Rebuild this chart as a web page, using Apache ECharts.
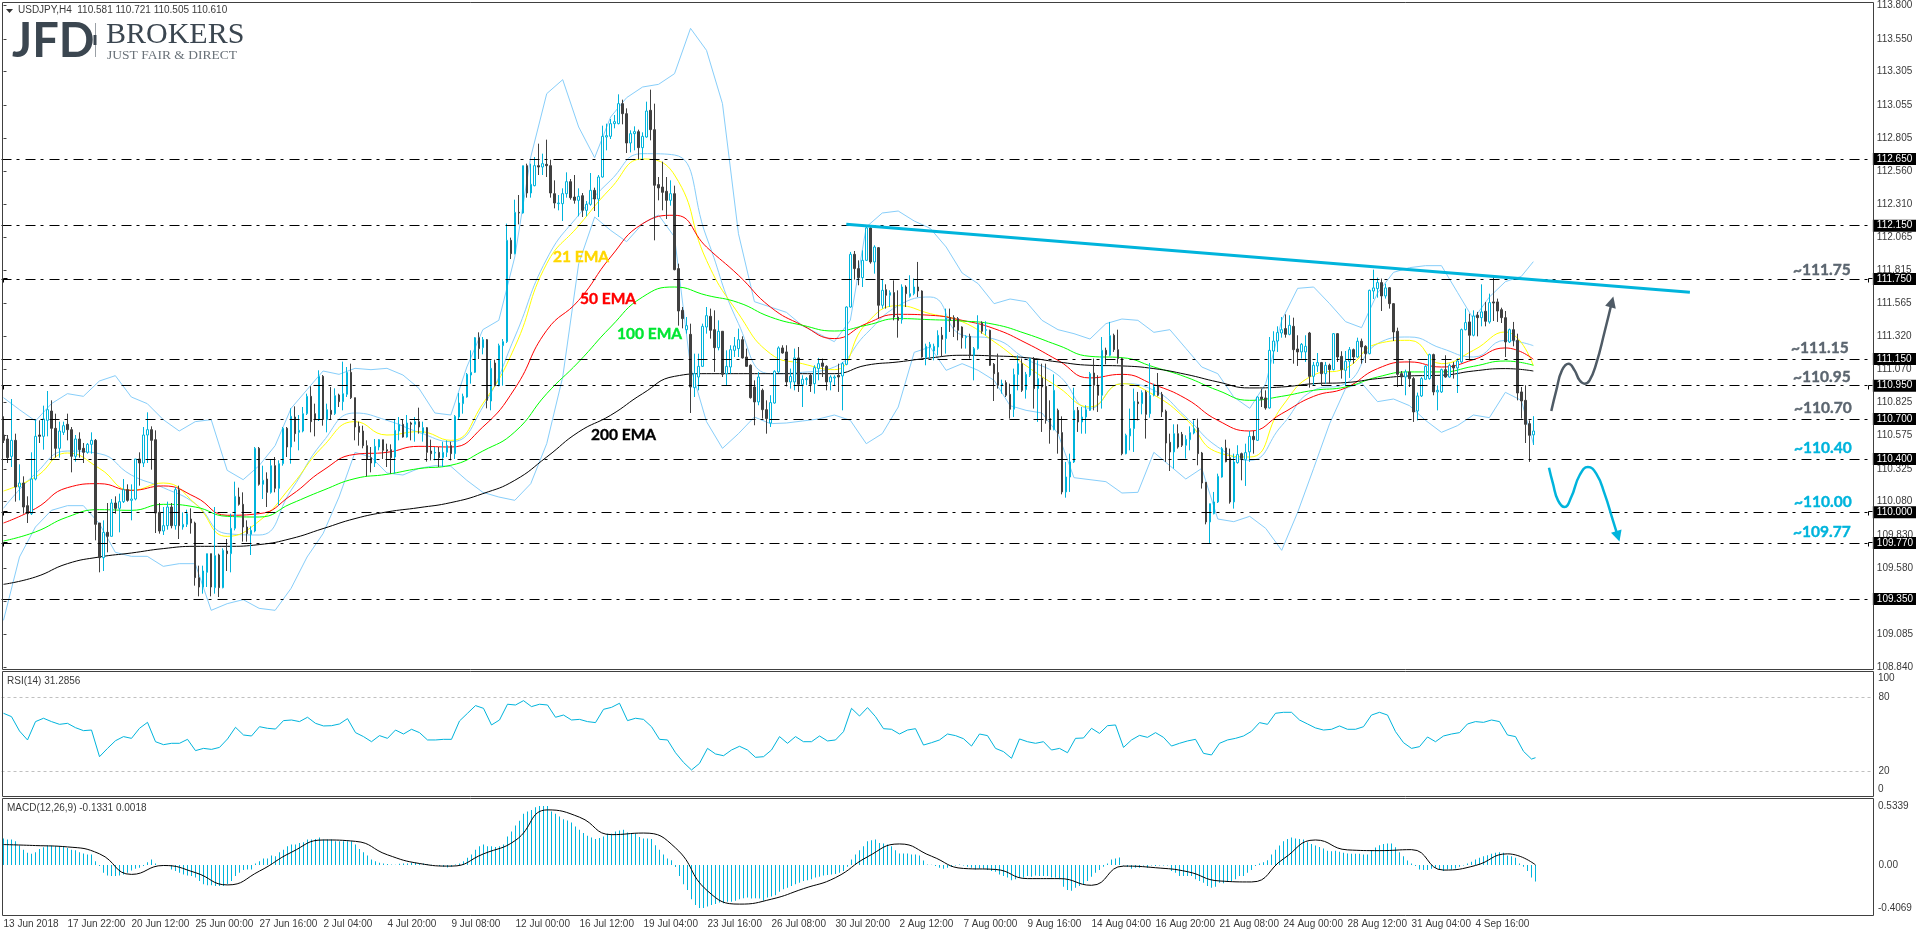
<!DOCTYPE html>
<html>
<head>
<meta charset="utf-8">
<title>USDJPY H4</title>
<script src="https://cdn.jsdelivr.net/npm/echarts@6/dist/echarts.min.js"></script>
<style>
  html, body { margin: 0; background: #fff; }
  #chart { width: 1916px; height: 936px; }
</style>
</head>
<body>
<div id="chart"></div>
<script>
// [open, close, low, high]
const candles = [
[110.58,110.54,110.52,110.72],[110.55,110.41,110.37,110.58],[110.42,110.54,110.34,110.85],[110.54,110.19,110.08,110.59],[110.19,110.22,110.09,110.36],[110.22,110.04,109.99,110.27],[110.05,109.99,109.92,110.12],[109.99,110.25,109.98,110.45],
[110.25,110.57,110.24,110.70],[110.58,110.57,110.52,110.69],[110.57,110.70,110.47,110.80],[110.69,110.77,110.57,110.91],[110.76,110.63,110.39,110.84],[110.63,110.48,110.41,110.74],[110.48,110.61,110.41,110.68],[110.60,110.65,110.58,110.68],
[110.66,110.62,110.54,110.74],[110.62,110.42,110.30,110.64],[110.42,110.55,110.38,110.58],[110.55,110.47,110.41,110.60],[110.48,110.45,110.37,110.52],[110.45,110.51,110.44,110.52],[110.51,110.54,110.44,110.60],[110.54,109.91,109.79,110.55],
[109.92,109.66,109.55,109.92],[109.66,109.85,109.56,109.94],[109.85,109.82,109.70,110.07],[109.82,110.07,109.82,110.10],[110.07,110.03,109.99,110.12],[110.03,110.08,109.85,110.14],[110.08,110.17,110.07,110.25],[110.17,110.09,110.08,110.21],
[110.09,110.10,109.94,110.21],[110.10,110.40,110.09,110.40],[110.40,110.37,110.20,110.45],[110.37,110.58,110.34,110.64],[110.58,110.62,110.37,110.75],[110.62,110.54,110.32,110.645],[110.545,109.995,109.845,110.615],[110.00,109.86,109.84,110.07],
[109.86,109.90,109.83,110.04],[109.90,110.04,109.87,110.08],[110.04,109.90,109.88,110.07],[109.90,110.17,109.87,110.19],[110.17,109.90,109.80,110.20],[109.89,109.91,109.87,110.0],[109.91,109.99,109.89,110.02],[109.95,109.92,109.84,110.03],
[109.92,109.51,109.45,109.93],[109.51,109.44,109.37,109.60],[109.44,109.56,109.39,109.60],[109.55,109.69,109.44,109.69],[109.69,109.44,109.37,109.69],[109.435,109.675,109.39,110.04],[109.68,109.435,109.365,109.69],[109.435,109.715,109.43,109.73],
[109.71,109.69,109.56,109.80],[109.69,109.88,109.55,109.99],[109.88,110.12,109.865,110.23],[110.115,110.06,110.05,110.185],[110.06,109.89,109.78,110.15],[109.89,109.84,109.78,109.94],[109.835,109.865,109.68,109.895],[109.86,110.48,109.85,110.49],
[110.48,110.21,110.20,110.49],[110.21,110.24,110.10,110.35],[110.25,110.15,110.04,110.30],[110.15,110.35,110.14,110.395],[110.35,110.18,110.15,110.415],[110.18,110.365,110.05,110.39],[110.365,110.63,110.35,110.64],[110.63,110.49,110.415,110.64],
[110.49,110.72,110.365,110.78],[110.715,110.59,110.53,110.795],[110.60,110.615,110.465,110.73],[110.61,110.74,110.60,110.79],[110.74,110.87,110.73,110.89],[110.87,110.68,110.60,110.945],[110.74,110.695,110.57,110.815],[110.695,111.02,110.685,111.065],
[111.02,110.70,110.65,111.03],[110.695,110.77,110.60,110.815],[110.765,110.735,110.695,110.94],[110.74,110.875,110.73,110.93],[110.88,110.83,110.79,110.89],[110.83,110.89,110.765,111.13],[110.885,111.05,110.865,111.09],[111.05,110.86,110.85,111.115],
[110.86,110.64,110.54,110.86],[110.645,110.60,110.50,110.68],[110.61,110.50,110.48,110.65],[110.50,110.40,110.27,110.54],[110.41,110.37,110.30,110.49],[110.37,110.495,110.34,110.55],[110.49,110.545,110.465,110.55],[110.545,110.465,110.40,110.545],
[110.47,110.46,110.34,110.515],[110.47,110.41,110.29,110.51],[110.415,110.615,110.29,110.70],[110.61,110.66,110.54,110.715],[110.66,110.565,110.56,110.70],[110.565,110.67,110.56,110.73],[110.67,110.66,110.54,110.68],[110.66,110.68,110.53,110.715],
[110.68,110.64,110.59,110.785],[110.595,110.635,110.53,110.68],[110.635,110.45,110.38,110.64],[110.46,110.44,110.39,110.545],[110.445,110.45,110.39,110.49],[110.45,110.41,110.34,110.49],[110.41,110.45,110.34,110.53],[110.45,110.50,110.415,110.54],
[110.50,110.44,110.39,110.53],[110.44,110.72,110.40,110.73],[110.715,110.82,110.70,110.895],[110.815,110.87,110.74,110.89],[110.865,111.035,110.86,111.045],[111.03,111.05,110.965,111.215],[111.05,111.31,111.045,111.315],[111.31,111.228,111.15,111.35],
[111.235,111.295,111.185,111.315],[111.295,110.84,110.78,111.30],[110.835,111.08,110.765,111.14],[111.12,110.95,110.945,111.145],[110.95,111.25,110.945,111.265],[111.25,111.28,110.95,111.30],[111.28,112.04,111.27,112.165],[112.04,111.94,111.90,112.06],
[111.94,112.25,111.935,112.345],[112.25,112.245,112.16,112.38],[112.245,112.60,112.24,112.60],[112.60,112.395,112.36,112.615],[112.395,112.46,112.36,112.615],[112.45,112.60,112.445,112.665],[112.60,112.59,112.53,112.765],[112.59,112.615,112.53,112.69],
[112.61,112.60,112.515,112.795],[112.60,112.395,112.36,112.645],[112.39,112.32,112.28,112.49],[112.315,112.32,112.265,112.38],[112.315,112.39,112.185,112.43],[112.39,112.48,112.36,112.55],[112.48,112.36,112.345,112.50],[112.365,112.34,112.315,112.53],
[112.34,112.37,112.22,112.43],[112.375,112.265,112.215,112.395],[112.265,112.31,112.22,112.335],[112.31,112.415,112.30,112.545],[112.415,112.35,112.26,112.435],[112.35,112.515,112.215,112.53],[112.515,112.82,112.51,112.90],[112.815,112.825,112.715,112.915],
[112.82,112.915,112.80,112.95],[112.915,112.93,112.88,112.98],[112.915,113.065,112.91,113.135],[113.065,112.99,112.91,113.095],[112.99,112.77,112.695,113.03],[112.77,112.84,112.70,112.865],[112.84,112.855,112.715,112.895],[112.855,112.735,112.645,112.87],
[112.735,112.82,112.65,112.85],[112.815,113.01,112.81,113.08],[113.015,112.87,112.79,113.17],[112.87,112.453,112.04,113.065],[112.458,112.433,112.34,112.515],[112.44,112.40,112.265,112.63],[112.408,112.34,112.20,112.515],[112.34,112.39,112.30,112.49],
[112.39,111.82,111.815,112.45],[111.828,111.51,111.40,111.865],[111.515,111.453,111.38,111.54],[111.37,111.40,111.34,111.465],[111.335,110.94,110.745,111.415],[110.935,111.04,110.865,111.19],[111.015,111.095,110.915,111.19],[111.095,111.395,111.09,111.415],
[111.39,111.475,111.34,111.54],[111.47,111.365,111.303,111.528],[111.37,111.235,111.053,111.515],[111.235,111.358,111.215,111.44],[111.358,111.035,111.015,111.36],[111.04,111.095,110.953,111.215],[111.09,111.22,111.04,111.253],[111.215,111.248,111.165,111.315],
[111.228,111.295,111.165,111.378],[111.295,111.158,111.153,111.32],[111.165,111.095,111.09,111.228],[111.103,110.86,110.853,111.11],[110.94,110.828,110.653,110.99],[110.828,111.015,110.803,111.053],[110.915,110.77,110.703,110.928],[110.77,110.703,110.59,110.84],
[110.67,110.823,110.64,110.878],[110.82,111.058,110.815,111.065],[111.053,111.233,111.045,111.245],[111.233,111.195,111.19,111.253],[111.203,110.978,110.945,111.253],[110.978,111.02,110.928,111.078],[110.978,111.158,110.915,111.228],[111.158,110.96,110.903,111.24],
[110.96,110.998,110.79,111.028],[110.995,111.003,110.953,111.015],[111.028,110.96,110.903,111.04],[110.965,111.085,110.89,111.103],[111.078,111.115,110.99,111.158],[111.12,111.095,111.015,111.153],[111.095,110.978,110.915,111.103],[110.978,111.015,110.915,111.028],
[111.008,111.015,110.953,111.028],[111.028,111.015,110.903,111.115],[111.023,111.115,110.765,111.128],[111.11,111.54,111.103,111.545],[111.54,111.935,111.535,111.953],[111.935,111.828,111.745,111.96],[111.828,111.76,111.703,111.89],[111.76,111.89,111.69,111.965],
[111.89,112.133,111.885,112.14],[112.133,111.878,111.865,112.153],[111.878,111.99,111.79,112.003],[111.985,111.553,111.453,111.99],[111.553,111.665,111.528,111.745],[111.67,111.628,111.528,111.71],[111.628,111.648,111.54,111.665],[111.648,111.465,111.44,111.74],
[111.465,111.44,111.31,111.665],[111.445,111.69,111.415,111.71],[111.69,111.64,111.54,111.703],[111.62,111.64,111.61,111.778],[111.64,111.69,111.628,111.753],[111.69,111.66,111.615,111.878],[111.66,111.165,111.16,111.665],[111.16,111.245,111.103,111.265],
[111.24,111.26,111.153,111.278],[111.21,111.245,111.14,111.265],[111.24,111.328,111.178,111.365],[111.328,111.298,111.165,111.39],[111.303,111.46,111.19,111.528],[111.46,111.44,111.353,111.528],[111.46,111.39,111.315,111.478],[111.453,111.365,111.29,111.465],
[111.39,111.31,111.228,111.395],[111.31,111.32,111.228,111.328],[111.32,111.178,111.153,111.34],[111.178,111.228,110.99,111.24],[111.228,111.41,111.22,111.478],[111.42,111.358,111.34,111.433],[111.365,111.37,111.328,111.433],[111.365,111.103,111.098,111.37],
[111.11,111.04,110.835,111.12],[111.048,110.953,110.928,111.19],[110.953,110.965,110.89,110.995],[110.973,110.878,110.865,110.99],[110.885,110.773,110.703,110.965],[110.773,111.033,110.715,111.078],[111.033,111.115,110.915,111.178],[111.115,110.915,110.903,111.153],
[110.92,111.035,110.853,111.053],[111.028,111.153,111.015,111.16],[111.153,110.928,110.778,111.165],[110.928,111.003,110.678,111.14],[111.008,110.94,110.603,111.115],[110.945,110.69,110.665,111.115],[110.703,110.62,110.515,110.84],[110.62,110.915,110.615,111.035],
[110.765,110.59,110.44,110.778],[110.598,110.153,110.135,110.72],[110.153,110.265,110.11,110.378],[110.265,110.378,110.153,110.44],[110.378,110.765,110.37,110.935],[110.765,110.678,110.603,110.79],[110.678,110.715,110.59,110.79],[110.715,110.77,110.59,110.803],
[110.765,111.04,110.76,111.053],[111.045,110.953,110.765,111.153],[110.953,110.878,110.753,111.028],[110.878,111.215,110.778,111.315],[111.215,111.183,111.11,111.235],[111.178,111.325,111.17,111.428],[111.328,111.22,111.203,111.34],[111.22,111.153,111.115,111.37],
[111.153,110.44,110.428,111.16],[110.44,110.578,110.435,110.59],[110.573,110.628,110.465,110.778],[110.628,110.833,110.453,110.928],[110.828,110.815,110.69,110.903],[110.815,110.898,110.735,110.915],[110.903,110.735,110.553,110.915],[110.74,110.878,110.71,111.12],
[110.878,110.94,110.87,110.965],[110.953,110.878,110.87,111.045],[110.885,110.753,110.715,110.903],[110.758,110.52,110.378,110.77],[110.525,110.453,110.31,110.59],[110.453,110.59,110.328,110.66],[110.59,110.49,110.478,110.66],[110.585,110.503,110.49,110.603],
[110.503,110.548,110.403,110.578],[110.545,110.598,110.465,110.645],[110.595,110.628,110.585,110.69],[110.633,110.44,110.353,110.703],[110.445,110.22,110.178,110.453],[110.225,109.928,109.91,110.228],[109.928,110.065,109.77,110.065],[109.99,110.078,109.985,110.153],
[110.078,110.27,110.07,110.29],[110.265,110.478,110.26,110.49],[110.483,110.38,110.375,110.545],[110.41,110.078,110.065,110.478],[110.078,110.378,110.028,110.44],[110.373,110.433,110.365,110.503],[110.44,110.403,110.24,110.448],[110.395,110.448,110.198,110.515],
[110.453,110.57,110.378,110.61],[110.57,110.545,110.44,110.61],[110.54,110.865,110.535,110.87],[110.865,110.848,110.79,110.928],[110.858,110.783,110.77,110.915],[110.783,111.215,110.778,111.315],[111.21,111.285,111.115,111.358],[111.285,111.348,111.203,111.395],
[111.345,111.37,111.31,111.465],[111.378,111.335,111.31,111.485],[111.335,111.403,111.328,111.478],[111.395,111.22,111.115,111.46],[111.225,111.203,111.098,111.328],[111.203,111.26,111.153,111.27],[111.203,111.245,111.128,111.328],[111.345,111.02,110.935,111.353],
[111.02,111.103,110.953,111.128],[111.098,111.123,111.053,111.195],[111.123,111.04,110.953,111.128],[111.04,111.103,110.965,111.128],[111.103,111.07,110.965,111.115],[111.07,111.34,111.065,111.345],[111.34,111.165,111.128,111.345],[111.17,111.07,111.003,111.208],
[111.065,111.133,110.945,111.21],[111.133,111.22,111.008,111.24],[111.22,111.165,111.115,111.228],[111.165,111.283,111.16,111.31],[111.283,111.24,111.115,111.303],[111.245,111.19,111.12,111.253],[111.19,111.665,111.185,111.67],[111.66,111.683,111.60,111.82],
[111.678,111.723,111.61,111.76],[111.723,111.623,111.51,111.753],[111.623,111.683,111.603,111.715],[111.685,111.565,111.528,111.69],[111.565,111.353,111.285,111.57],[111.358,111.035,110.94,111.385],[111.04,111.015,110.953,111.06],[111.015,111.053,110.878,111.07],
[111.053,111.003,110.94,111.14],[111.003,110.753,110.678,111.015],[110.76,110.873,110.69,110.898],[110.873,111.003,110.865,111.015],[110.998,111.095,110.995,111.103],[111.003,111.183,110.995,111.19],[111.183,110.903,110.878,111.19],[110.903,110.915,110.765,110.953],
[110.903,111.07,110.895,111.078],[111.07,111.015,111.01,111.178],[111.015,111.103,111.01,111.115],[111.103,111.083,111.003,111.128],[111.083,111.135,110.895,111.153],[111.128,111.37,111.12,111.378],[111.37,111.423,111.365,111.528],[111.428,111.328,111.14,111.49],
[111.328,111.473,111.32,111.515],[111.478,111.46,111.32,111.503],[111.46,111.503,111.395,111.71],[111.508,111.433,111.395,111.578],[111.428,111.573,111.415,111.64],[111.578,111.57,111.435,111.765],[111.578,111.51,111.428,111.603],[111.52,111.46,111.42,111.535],
[111.46,111.278,111.165,111.51],[111.278,111.37,111.27,111.378],[111.37,111.29,111.245,111.428],[111.29,110.895,110.84,111.34],[110.903,110.835,110.703,110.94],[110.84,110.66,110.52,110.953],[110.665,110.578,110.378,110.69],[110.581,110.61,110.505,110.721]
];

// moving averages, read every 8th bar
const ema21 = [110.16,110.265,110.445,110.33,110.165,110.22,110.065,109.82,109.935,110.195,110.495,110.68,110.58,110.605,110.54,110.815,111.24,111.865,112.15,112.43,112.65,112.53,111.89,111.49,111.19,111.115,111.07,111.415,111.55,111.49,111.43,111.28,111.10,110.94,110.79,110.965,110.88,110.70,110.45,110.415,110.79,111.03,111.08,111.265,111.29,111.115,111.215,111.353,111.10];
const ema50 = [109.92,110.028,110.185,110.215,110.165,110.198,110.115,109.978,109.99,110.128,110.315,110.435,110.45,110.495,110.49,110.64,110.928,111.365,111.59,111.915,112.165,112.228,111.99,111.778,111.54,111.403,111.303,111.415,111.485,111.478,111.44,111.378,111.27,111.14,111.008,111.035,110.958,110.853,110.69,110.61,110.74,110.87,110.933,111.078,111.128,111.09,111.145,111.233,111.148];
const ema100 = [109.785,109.853,109.965,110.02,110.015,110.06,110.04,109.97,109.965,110.065,110.165,110.253,110.285,110.328,110.353,110.46,110.603,110.89,111.128,111.39,111.615,111.69,111.628,111.573,111.465,111.403,111.36,111.403,111.453,111.445,111.435,111.41,111.34,111.253,111.17,111.16,111.09,111.015,110.915,110.84,110.87,110.915,110.94,111.015,111.053,111.053,111.095,111.135,111.103];
const ema200 = [109.46,109.515,109.615,109.665,109.695,109.728,109.745,109.745,109.758,109.803,109.878,109.953,110.003,110.035,110.073,110.14,110.24,110.415,110.603,110.728,110.89,111.02,111.04,111.04,111.04,111.04,111.04,111.103,111.128,111.158,111.178,111.173,111.16,111.128,111.103,111.098,111.078,111.035,110.978,110.933,110.94,110.965,110.973,111.003,111.023,111.028,111.06,111.078,111.06];

// bollinger bands: upper and lower every 4th bar, middle every 8th
const bbUpper = [110.86,110.77,110.685,110.815,110.89,110.87,110.985,111.025,110.865,110.815,110.695,110.61,110.68,110.695,110.315,110.245,110.35,110.50,110.78,110.92,111.06,111.035,111.08,111.07,111.08,111.03,110.93,110.745,110.73,111.09,111.37,111.44,111.915,112.665,113.14,113.245,112.89,112.66,112.965,113.11,113.19,113.21,113.29,113.63,113.465,113.065,112.09,111.58,111.54,111.50,111.40,111.34,111.28,111.44,112.14,112.245,112.26,112.185,112.13,111.99,111.795,111.715,111.565,111.60,111.58,111.44,111.37,111.34,111.30,111.415,111.45,111.44,111.35,111.37,111.23,111.09,111.04,110.865,110.78,110.965,111.44,111.68,111.69,111.565,111.43,111.385,111.645,111.80,111.835,111.85,111.85,111.65,111.45,111.615,111.73,111.77,111.88];
const bbLower = [109.19,109.665,109.89,110.015,110.05,110.05,109.915,109.70,109.67,109.67,109.595,109.615,109.615,109.265,109.315,109.345,109.28,109.265,109.43,109.665,109.84,110.115,110.45,110.415,110.295,110.28,110.33,110.35,110.345,110.24,110.15,110.115,110.09,110.215,110.515,111.015,111.865,112.215,112.115,112.03,112.165,112.23,112.065,111.09,110.68,110.48,110.59,110.715,110.665,110.67,110.685,110.70,110.73,110.69,110.515,110.59,110.79,111.20,111.24,111.065,111.115,111.065,110.99,110.80,110.765,110.745,110.59,110.26,110.245,110.23,110.145,110.15,110.45,110.35,110.25,110.33,109.95,109.93,109.97,109.88,109.715,110.00,110.33,110.665,110.93,110.97,110.83,110.85,110.80,110.69,110.60,110.65,110.73,110.71,110.90,110.84,110.515];
const bbMiddle = [110.03,110.29,110.46,110.44,110.28,110.185,110.065,109.84,109.83,110.165,110.53,110.745,110.69,110.60,110.53,110.79,111.315,111.90,112.23,112.49,112.69,112.68,112.065,111.415,111.04,111.05,111.09,111.34,111.55,111.615,111.33,111.30,111.15,111.03,110.78,110.965,110.915,110.715,110.49,110.39,110.65,110.915,110.965,111.265,111.315,111.23,111.165,111.29,111.25];

// RSI(14), read every 2nd bar
const rsi = [67.1,64.4,52.8,45.6,60.4,63.1,60.4,58.2,59.0,55.5,53.1,53.6,32.1,38.8,45.0,48.3,46.9,55.0,59.8,44.2,41.8,42.9,42.9,46.1,37.0,38.8,38.0,39.6,46.4,55.8,49.6,48.8,56.3,55.0,54.4,61.2,61.7,60.4,63.9,59.0,56.9,57.1,58.5,62.8,51.5,48.3,44.2,49.1,46.9,53.6,50.4,54.2,51.5,45.6,45.6,46.1,46.1,60.9,67.1,73.3,71.1,57.7,61.7,74.4,73.8,77.3,72.5,74.4,73.8,63.9,65.7,61.7,62.2,60.4,59.6,70.3,71.9,75.2,61.2,63.1,
62.2,56.3,46.1,45.6,35.3,27.5,21.4,26.7,38.8,34.3,32.9,37.5,40.5,37.5,31.6,32.1,37.5,48.3,42.9,48.3,44.2,44.2,48.8,44.8,45.6,52.3,71.1,64.9,71.7,64.4,54.7,54.2,50.4,53.6,54.7,41.5,43.4,45.6,50.4,49.1,46.6,40.7,50.4,49.1,38.8,36.2,30.8,46.4,44.2,42.9,44.2,37.5,38.8,35.3,46.9,47.2,55.0,50.9,57.1,57.7,39.6,45.6,49.3,47.7,51.5,47.7,40.7,42.9,44.8,46.1,34.8,33.5,42.9,45.6,46.9,48.8,52.6,59.6,58.2,67.1,
67.9,67.9,61.7,58.5,55.3,53.6,54.2,56.9,54.2,54.2,56.3,65.7,67.9,65.7,52.3,43.4,38.8,40.2,48.0,44.2,48.8,50.4,51.5,58.5,60.4,59.8,61.7,60.4,49.6,48.3,36.4,30.2,31.29];

// MACD main (histogram) bar by bar, signal every 8th bar
const macdHist = [.214,.206,.206,.192,.158,.125,.099,.091,.104,.131,.144,.158,.158,.152,.152,.147,.139,.125,.120,.104,.093,.085,.085,.032,-.008,-.061,-.083,-.088,-.088,-.083,-.075,-.061,-.043,-.029,-.021,-.008,.024,.045,.013,0,-.003,-.008,-.035,-.048,-.061,-.075,-.083,-.088,-.101,-.128,-.155,-.163,-.163,-.168,-.168,-.168,-.155,-.128,-.088,-.061,-.040,-.035,-.035,.013,.032,.053,.053,.077,.072,.104,.125,.152,.166,.166,.179,.184,.206,.206,.211,.224,.206,.206,.206,.192,.192,.192,.192,.192,.166,.131,.104,.077,.045,.032,.019,.013,.008,.005,.003,.011,.013,.013,.019,.019,.013,.013,.008,.003,0,-.008,-.013,-.019,-.013,.005,.013,.032,.059,.085,.125,.152,.166,.152,.152,.147,.152,.166,.232,.272,.320,.358,.414,.433,.446,.467,.478,.478,.478,.433,.414,.392,.371,.360,.344,.312,.286,.259,.238,.224,.211,.219,.232,.254,.254,.272,.280,.286,.264,.259,.254,.227,
.214,.214,.211,.160,.125,.085,.053,.040,-.016,-.088,-.155,-.200,-.275,-.323,-.347,-.347,-.334,-.323,-.315,-.302,-.307,-.296,-.296,-.288,-.275,-.267,-.262,-.270,-.267,-.270,-.286,-.262,-.254,-.243,-.216,-.195,-.182,-.168,-.155,-.142,-.128,-.123,-.115,-.101,-.093,-.083,-.080,-.075,-.072,-.061,-.048,-.013,.045,.085,.120,.152,.192,.200,.206,.179,.174,.166,.152,.120,.093,.093,.093,.085,.085,.077,.037,.005,.003,-.008,-.021,-.029,-.021,-.013,-.003,.005,-.003,-.013,-.021,-.035,-.029,-.029,-.040,-.048,-.053,-.075,-.088,-.101,-.123,-.115,-.101,-.101,-.088,-.093,-.083,-.088,-.088,-.088,-.101,-.101,-.115,-.174,-.200,-.208,-.182,-.168,-.155,-.128,-.093,-.061,-.040,-.013,.013,.045,.053,.061,-.003,-.013,-.029,-.021,-.021,-.003,-.021,-.003,-.008,-.003,-.003,-.003,-.048,-.061,-.088,-.088,-.088,-.088,-.115,-.128,-.142,-.168,-.182,-.174,-.142,-.147,-.136,-.128,-.115,-.088,-.088,-.061,-.040,-.008,.013,.024,.040,.085,.125,.158,
.192,.211,.224,.214,.211,.206,.184,.171,.158,.147,.134,.117,.112,.117,.107,.099,.093,.091,.091,.091,.085,.085,.120,.142,.160,.171,.174,.174,.144,.104,.072,.037,.013,-.008,-.035,-.040,-.040,-.029,-.021,-.040,-.048,-.035,-.035,-.027,-.013,-.003,.013,.027,.045,.059,.072,.080,.091,.099,.104,.099,.077,.072,.059,.013,-.013,-.048,-.101,-.1331];
const macdSignal = [.166,.158,.147,.091,-.075,-.003,-.061,-.160,-.048,.104,.203,.192,.083,.013,-.008,.091,.200,.446,.387,.246,.259,.139,-.208,-.315,-.275,-.190,-.101,.067,.171,.072,-.027,-.035,-.109,-.109,-.163,-.008,-.021,-.053,-.128,-.136,.051,.203,.123,.117,.125,-.040,-.003,.091,.0018];

// axis text
const priceTicks = [113.8,113.55,113.305,113.055,112.805,112.56,112.31,112.065,111.815,111.565,111.32,111.07,110.825,110.575,110.325,110.08,109.83,109.58,109.335,109.085,108.84];
const levels = [112.65,112.15,111.75,111.15,110.95,110.7,110.4,110,109.77,109.35];
const flaggedLevels = [111.75,110.95,110,109.77];
const lastPrice = 110.61;
const rsiTicks = [100,80,20,0];
const macdTicks = [0.5339,0,-0.4069];
const timeLabels = ['13 Jun 2018','17 Jun 22:00','20 Jun 12:00','25 Jun 00:00','27 Jun 16:00','2 Jul 04:00','4 Jul 20:00','9 Jul 08:00','12 Jul 00:00','16 Jul 12:00','19 Jul 04:00','23 Jul 16:00','26 Jul 08:00','30 Jul 20:00','2 Aug 12:00','7 Aug 00:00','9 Aug 16:00','14 Aug 04:00','16 Aug 20:00','21 Aug 08:00','24 Aug 00:00','28 Aug 12:00','31 Aug 04:00','4 Sep 16:00'];

// hand drawn things on the chart, [bar, price]
const trendLine = [[211,112.16],[422.2,111.65]];
const upArrow = [[387.5,110.76],[388.75,110.915],[390.17,111.065],[391.83,111.115],[393.33,111.065],[394.58,110.99],[395.83,110.965],[397.08,110.99],[398.75,111.115],[400.83,111.353],[402.67,111.578]];
const downArrow = [[386.92,110.335],[387.92,110.215],[389.17,110.09],[390.83,110.04],[392.5,110.115],[394.58,110.278],[396.67,110.34],[398.75,110.29],[400.83,110.14],[402.92,109.94],[404.17,109.82]];

const BARS = 468; // room on the right is empty, 384 bars drawn
const LABEL_STEP = 16;
const BLUE = '#00b4dc';
const DARK = '#404040';
const FRAME = '#404040';
const TEXT = '#3a3a3a';
const NOTE_GREY = '#5c6670';
const UIFONT = 'Liberation Sans';
const PRICE_TOP = 113.82;
const PRICE_BOTTOM = 108.825;

const barIndex = Array.from({ length: BARS }, (_, i) => i);
const sampled = (vals, step) => vals.map((v, k) => [Math.min(k * step, candles.length - 1), v]);

function thinLine (name, data, color, smooth) {
  return {
    name, type: 'line', data, xAxisIndex: 0, yAxisIndex: 0,
    symbol: 'none', smooth: smooth || false, animation: false, silent: true,
    lineStyle: { color, width: 1 }
  };
}

function handArrow (data, color, rotate) {
  return {
    type: 'line', data, xAxisIndex: 3, yAxisIndex: 0, smooth: true, silent: true,
    showAllSymbol: true,
    symbol: (v, p) => (p.dataIndex === data.length - 1 ? 'triangle' : 'none'),
    symbolSize: 11, symbolRotate: rotate,
    itemStyle: { color }, lineStyle: { color, width: 2.5 }, z: 6
  };
}

// heavy text for the notes put on the chart by hand
function note (text, x, y, fill) {
  return {
    type: 'text', silent: true, x, y, z: 10,
    style: { text, fill, stroke: fill, lineWidth: 0.4, font: 'bold 15.5px Lato' }
  };
}

function axisNote (text, y) {
  return {
    type: 'text', silent: true, x: 1878, y,
    style: { text, fill: TEXT, font: '10px ' + UIFONT, verticalAlign: 'middle' }
  };
}

// the small corner marks next to some levels
function levelFlags () {
  const out = [];
  flaggedLevels.forEach(v => {
    const y = Math.round(3 + (PRICE_TOP - v) / (PRICE_TOP - PRICE_BOTTOM) * 666) - 0.5;
    [3.5, 1868.5].forEach(x => {
      out.push({
        type: 'polyline', silent: true, z: 10,
        shape: { points: [[x, y + 4], [x, y], [x + 4, y]] },
        style: { fill: null, stroke: '#000', lineWidth: 1 }
      });
    });
  });
  return out;
}

const levelLines = levels.map(v => ({
  yAxis: v,
  label: { backgroundColor: '#000', color: '#fff' }
}));
levelLines.push({
  yAxis: lastPrice,
  lineStyle: { opacity: 0 },
  label: { backgroundColor: '#4d4d4d', color: '#fff' }
});

const labelFilter = i => i % LABEL_STEP === 0 && i / LABEL_STEP < timeLabels.length;

const hidden = { show: false };
const option = {
  animation: false,
  backgroundColor: '#fff',
  grid: [
    { left: 1.5, width: 1872, top: 3, height: 666 },
    { left: 1.5, width: 1872, top: 672.5, height: 124 },
    { left: 1.5, width: 1872, top: 799, height: 116.5 }
  ],
  xAxis: [
    { type: 'category', gridIndex: 0, data: barIndex, axisLine: hidden, axisTick: hidden, axisLabel: hidden },
    { type: 'category', gridIndex: 1, data: barIndex, axisLine: hidden, axisTick: hidden, axisLabel: hidden },
    {
      type: 'category', gridIndex: 2, data: barIndex,
      axisLine: hidden,
      axisTick: { alignWithLabel: true, interval: labelFilter, length: 3, lineStyle: { color: FRAME } },
      axisLabel: {
        interval: labelFilter, hideOverlap: false, align: 'left', margin: 4,
        formatter: (v, i) => timeLabels[i / LABEL_STEP],
        color: TEXT, fontSize: 10, fontFamily: UIFONT
      }
    },
    { type: 'value', gridIndex: 0, min: -0.5, max: BARS - 0.5, position: 'top', show: false }
  ],
  yAxis: [
    {
      type: 'value', gridIndex: 0, position: 'right', min: PRICE_BOTTOM, max: PRICE_TOP, scale: true,
      splitLine: hidden, axisLine: hidden,
      axisTick: { customValues: priceTicks, length: 3, lineStyle: { color: FRAME } },
      axisLabel: {
        customValues: priceTicks, formatter: v => v.toFixed(3), margin: 6,
        color: TEXT, fontSize: 10, fontFamily: UIFONT
      }
    },
    {
      type: 'value', gridIndex: 1, position: 'right', min: 0, max: 100,
      splitLine: hidden, axisLine: hidden,
      axisTick: { customValues: rsiTicks, length: 3, lineStyle: { color: FRAME } },
      axisLabel: {
        customValues: [80, 20], margin: 5,
        color: TEXT, fontSize: 10, fontFamily: UIFONT
      }
    },
    {
      type: 'value', gridIndex: 2, position: 'right', min: -0.4069, max: 0.5339, scale: true,
      splitLine: hidden, axisLine: hidden,
      axisTick: { customValues: macdTicks, length: 3, lineStyle: { color: FRAME } },
      axisLabel: {
        customValues: [0], margin: 5, formatter: () => '0.00',
        color: TEXT, fontSize: 10, fontFamily: UIFONT
      }
    }
  ],
  series: [
    {
      name: 'USDJPY', type: 'candlestick', data: candles, xAxisIndex: 0, yAxisIndex: 0,
      barWidth: 2, silent: true, z: 3,
      itemStyle: { color: '#ffffff', color0: DARK, borderColor: BLUE, borderColor0: DARK, borderWidth: 1 },
      markLine: {
        silent: true, symbol: 'none', animation: false,
        lineStyle: { color: '#000', width: 1, type: [10, 5, 3, 6] },
        label: {
          position: 'end', distance: 2, formatter: p => p.value.toFixed(3),
          padding: [1, 10, 1, 4], fontSize: 10, fontFamily: UIFONT
        },
        data: levelLines
      }
    },
    thinLine('bb upper', sampled(bbUpper, 4), '#87cefa'),
    thinLine('bb lower', sampled(bbLower, 4), '#87cefa'),
    thinLine('bb middle', sampled(bbMiddle, 8), '#87cefa', true),
    thinLine('21 EMA', sampled(ema21, 8), '#ffff00', true),
    thinLine('50 EMA', sampled(ema50, 8), '#ff0000', true),
    thinLine('100 EMA', sampled(ema100, 8), '#00ff00', true),
    thinLine('200 EMA', sampled(ema200, 8), '#000000', true),
    {
      name: 'trend', type: 'line', data: trendLine, xAxisIndex: 3, yAxisIndex: 0, symbol: 'none', silent: true,
      lineStyle: { color: BLUE, width: 3 }, z: 5
    },
    handArrow(upArrow, '#4f5b66', -15),
    handArrow(downArrow, BLUE, -163),
    {
      name: 'RSI(14)', type: 'line', data: sampled(rsi, 2), xAxisIndex: 1, yAxisIndex: 1, symbol: 'none', silent: true,
      lineStyle: { color: BLUE, width: 1 },
      markLine: {
        silent: true, symbol: 'none', animation: false, label: hidden,
        lineStyle: { color: '#c0c0c0', width: 1, type: [3, 3] },
        data: [{ yAxis: 80 }, { yAxis: 20 }]
      }
    },
    {
      name: 'MACD', type: 'bar', data: macdHist, xAxisIndex: 2, yAxisIndex: 2, barWidth: 1, silent: true,
      itemStyle: { color: BLUE }
    },
    {
      name: 'Signal', type: 'line', data: sampled(macdSignal, 8), xAxisIndex: 2, yAxisIndex: 2, symbol: 'none',
      smooth: true, silent: true, lineStyle: { color: '#000', width: 1 }, z: 4
    }
  ],
  graphic: { elements: [
    // pane frames
    { type: 'rect', silent: true, z: 20, shape: { x: 2.5, y: 2.5, width: 1871, height: 667 }, style: { fill: null, stroke: FRAME, lineWidth: 1 } },
    { type: 'rect', silent: true, z: 20, shape: { x: 2.5, y: 671.5, width: 1871, height: 125 }, style: { fill: null, stroke: FRAME, lineWidth: 1 } },
    { type: 'rect', silent: true, z: 20, shape: { x: 2.5, y: 798.5, width: 1871, height: 117 }, style: { fill: null, stroke: FRAME, lineWidth: 1 } },
    // header
    { type: 'polygon', silent: true, shape: { points: [[6, 9], [13, 9], [9.5, 13]] }, style: { fill: '#333' } },
    { type: 'text', silent: true, x: 18, y: 5, style: { text: 'USDJPY,H4  110.581 110.721 110.505 110.610', fill: TEXT, font: '10px ' + UIFONT } },
    { type: 'text', silent: true, x: 7, y: 676, style: { text: 'RSI(14) 31.2856', fill: TEXT, font: '10px ' + UIFONT } },
    { type: 'text', silent: true, x: 7, y: 803, style: { text: 'MACD(12,26,9) -0.1331 0.0018', fill: TEXT, font: '10px ' + UIFONT } },
    // logo
    { type: 'text', silent: true, x: 12, y: 18, style: { text: 'JFD', fill: '#3b4650', font: 'bold 47px Lato' } },
    { type: 'rect', silent: true, shape: { x: 95, y: 23, width: 1, height: 34 }, style: { fill: '#9aa0a6' } },
    { type: 'rect', silent: true, shape: { x: 93.5, y: 35, width: 3, height: 10 }, style: { fill: '#3b4650' } },
    { type: 'text', silent: true, x: 106, y: 20, style: { text: 'BROKERS', fill: '#3b4650', font: '30px Liberation Serif' } },
    { type: 'text', silent: true, x: 107, y: 48, style: { text: 'JUST FAIR & DIRECT', fill: '#6a7279', font: '13.5px Liberation Serif' } },
    // clamped labels of the sub panes
    axisNote('100', 678),
    axisNote('0', 789),
    axisNote('0.5339', 806),
    axisNote('-0.4069', 908),
    // EMA names
    note('21 EMA', 553, 249, '#ffd700'),
    note('50 EMA', 580, 291, '#ff0000'),
    note('100 EMA', 617, 326, '#00e632'),
    note('200 EMA', 591, 427, '#000000'),
    // level notes
    note('~111.75', 1793, 262, NOTE_GREY),
    note('~111.15', 1791, 340, NOTE_GREY),
    note('~110.95', 1793, 369, NOTE_GREY),
    note('~110.70', 1794, 400, NOTE_GREY),
    note('~110.40', 1794, 440, BLUE),
    note('~110.00', 1794, 494, BLUE),
    note('~109.77', 1793, 524, BLUE)
  ].concat(levelFlags()) }
};

const myChart = echarts.init(document.getElementById('chart'), null, { renderer: 'canvas' });
myChart.setOption(option);
</script>
</body>
</html>
